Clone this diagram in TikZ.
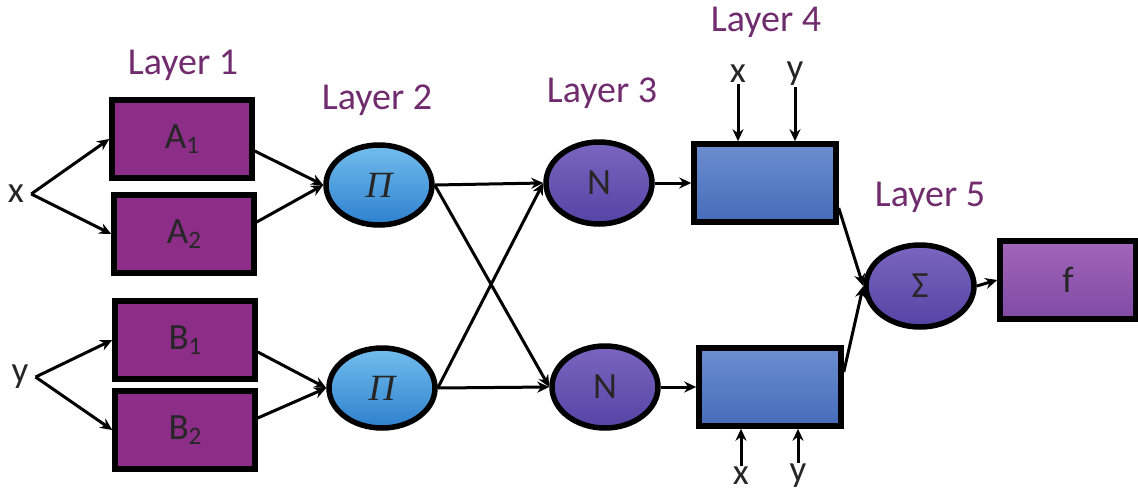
\documentclass[tikz,border=0pt]{standalone}
\usepackage{fontspec}
\setmainfont{Carlito}
\newfontfamily\grkfont{Liberation Serif}
\usetikzlibrary{shapes.geometric,arrows.meta}
\definecolor{layertext}{RGB}{112,44,110}
\definecolor{fuzzyfill}{RGB}{140,45,135}
\definecolor{prodtop}{RGB}{115,190,238}
\definecolor{prodbot}{RGB}{45,128,205}
\definecolor{normtop}{RGB}{122,102,192}
\definecolor{normbot}{RGB}{84,68,164}
\definecolor{ruletop}{RGB}{108,142,208}
\definecolor{rulebot}{RGB}{70,108,186}
\definecolor{outtop}{RGB}{162,102,186}
\definecolor{outbot}{RGB}{128,74,164}
\newcommand{\lbl}{\fontsize{37}{39}\selectfont}
\newcommand{\lyr}{\fontsize{38}{40}\selectfont}
\newcommand{\idx}[1]{{\fontsize{25}{26}\selectfont\raisebox{-5pt}{#1}}}
\begin{document}
\begin{tikzpicture}[x=1pt,y=-1pt]
        \tikzstyle{fuzzybox}=[rectangle,line width=5.5pt,draw=black,fill=fuzzyfill,minimum width=140pt,minimum height=78pt,font=\lbl,text=black!85]
        \tikzstyle{prodnode}=[ellipse,line width=5.5pt,draw=black,top color=prodtop,bottom color=prodbot,minimum width=106pt,minimum height=80pt,font=\lbl,text=black!85]
        \tikzstyle{normnode}=[ellipse,line width=5.5pt,draw=black,top color=normtop,bottom color=normbot,minimum width=106pt,minimum height=82pt,font=\lbl,text=black!85]
        \tikzstyle{rulebox}=[rectangle,line width=5.5pt,draw=black,top color=ruletop,bottom color=rulebot,minimum width=142pt,minimum height=78pt]
        \tikzstyle{outbox}=[rectangle,line width=5.5pt,draw=black,top color=outtop,bottom color=outbot,minimum width=136pt,minimum height=78pt,font=\lbl,text=black!85]
        \tikzstyle{layerlabel}=[font=\lyr,text=layertext]
        \tikzstyle{inlabel}=[font=\lbl,text=black!85,inner sep=1pt]
        \tikzstyle{edge}=[draw,line width=3pt,-{Stealth[length=12pt,width=11pt]}]
        \useasboundingbox (0,0) rectangle (1138,493);
        % layer 1
        \node [fuzzybox] (A1) at (182,139) {A\idx{1}};
        \node [fuzzybox] (A2) at (184,234) {A\idx{2}};
        \node [fuzzybox] (B1) at (185,340) {B\idx{1}};
        \node [fuzzybox] (B2) at (185,430) {B\idx{2}};
        \node [inlabel] (xin) at (16,194) {x};
        \node [inlabel] (yin) at (20,377) {y};
        % layer 2
        \node [prodnode] (P1) at (379,185) {\grkfont\itshape Π};
        \node [prodnode] (P2) at (382,388) {\grkfont\itshape Π};
        % layer 3
        \node [normnode] (N1) at (599,183) {N};
        \node [normnode] (N2) at (605,387) {N};
        % layer 4
        \node [rulebox] (R1) at (765,183) {};
        \node [rulebox] (R2) at (770,387) {};
        \node [inlabel] (xt) at (738,74) {x};
        \node [inlabel] (yt) at (795,74) {y};
        \node [inlabel] (xb) at (741,476) {x};
        \node [inlabel] (yb) at (798,476) {y};
        % layer 5
        \node [normnode,minimum width=108pt] (S) at (920,286) {Σ};
        \node [outbox] (F) at (1068,280) {f};
        % labels
        \node [layerlabel] (L1) at (183,65) {Layer 1};
        \node [layerlabel] (L2) at (377,100) {Layer 2};
        \node [layerlabel] (L3) at (602,93) {Layer 3};
        \node [layerlabel] (L4) at (766,22) {Layer 4};
        \node [layerlabel] (L5) at (930,197) {Layer 5};
        % connections
        \path[edge] ([xshift=6pt]xin.east) -- (A1.west);
        \path[edge] ([xshift=6pt]xin.east) -- (A2.west);
        \path[edge] ([xshift=6pt]yin.east) -- (B1.west);
        \path[edge] ([xshift=6pt]yin.east) -- (B2.west);
        \path[edge] ([yshift=-12pt]A1.east) -- (P1.west);
        \path[edge] ([yshift=12pt]A2.east) -- (P1.west);
        \path[edge] ([yshift=-12pt]B1.east) -- (P2.west);
        \path[edge] ([yshift=12pt]B2.east) -- (P2.west);
        \path[edge] (P1.east) -- (N1.west);
        \path[edge] (P1.east) -- (N2.west);
        \path[edge] (P2.east) -- (N1.west);
        \path[edge] (P2.east) -- (N2.west);
        \path[edge] (N1.east) -- (R1.west);
        \path[edge] (N2.east) -- (R2.west);
        \path[edge] (xt) -- (xt |- R1.north);
        \path[edge] (yt) -- (yt |- R1.north);
        \path[edge] (xb) -- (xb |- R2.south);
        \path[edge] (yb) -- (yb |- R2.south);
        \path[edge] ([yshift=-25pt]R1.east) -- (S.west);
        \path[edge] ([yshift=15pt]R2.east) -- (S.west);
        \path[edge] (S.east) -- (F.west);
\end{tikzpicture}
\end{document}
